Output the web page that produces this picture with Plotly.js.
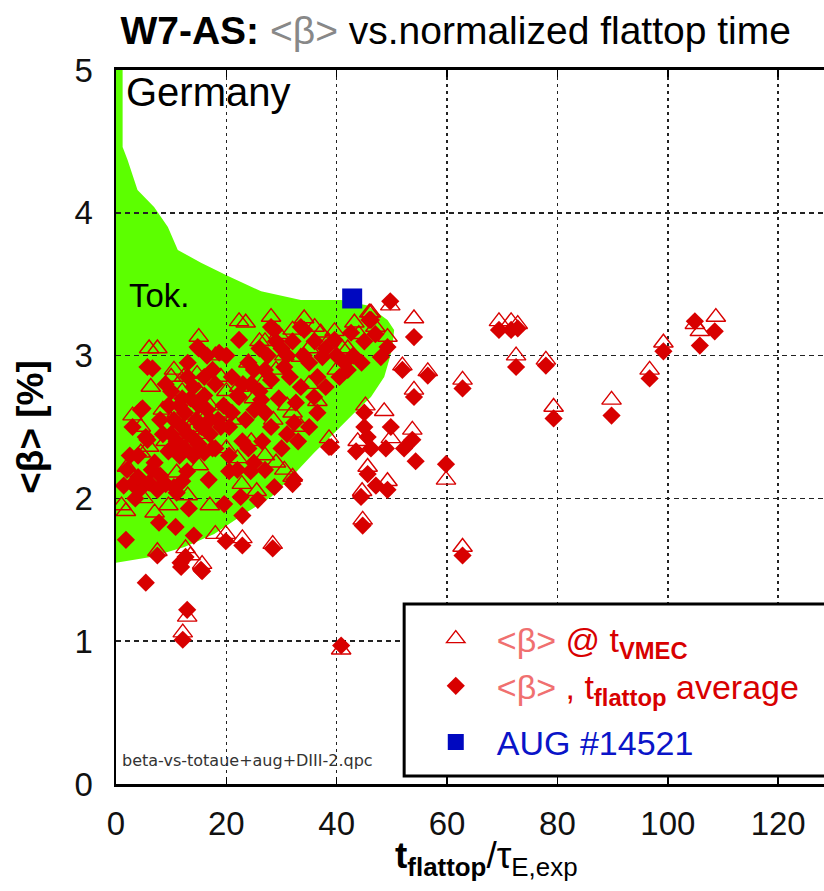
<!DOCTYPE html>
<html>
<head>
<meta charset="utf-8">
<script src="https://cdn.plot.ly/plotly-3.0.1.min.js"></script>
<style>html,body{margin:0;padding:0;background:#fff;}#chart{width:824px;height:891px;}</style>
</head>
<body>
<div id="chart"></div>
<script>
// Tokamak ("Tok.") operating region boundary
const greenX = [0, 0, 1.2, 1.2, 2.1, 3.9, 6.9, 9.4, 11.2, 15.4, 20.2, 26.3, 33.5, 40.8, 45.6, 49.2, 50.4, 50.1, 49.5, 48.6, 46.2, 43.2, 39.6, 35.9, 32.3, 28.1, 23.2, 17.8, 12.4, 6.3, 0];
const greenY = [1.55, 5, 5, 4.46, 4.37, 4.16, 4.04, 3.90, 3.74, 3.65, 3.56, 3.45, 3.39, 3.39, 3.35, 3.25, 3.18, 3.06, 2.97, 2.85, 2.71, 2.60, 2.46, 2.32, 2.17, 2.01, 1.89, 1.75, 1.66, 1.59, 1.55];

// <beta> at t_VMEC (open triangles)
const triX = [49.7, 54.0, 46.2, 51.9, 56.5, 54.0, 62.8, 69.4, 71.6, 72.8, 72.5, 77.9, 79.3, 89.8, 96.7, 99.2, 105.8, 108.7, 104.9,
  59.8, 62.8, 45.2, 48.6, 53.7, 49.8, 45.6, 49.2, 44.6, 44.7, 43.8,
  32.0, 29.0, 25.5, 28.4,
  1.8, 12.9, 12.1, 40.8, 7.5, 12.6, 15.6, 13.5, 19.9, 22.9, 22.8, 13.0, 7.0, 2.0, 1.0, 5.0, 9.5, 17.0, 11.0, 15.0,
  22.3, 15.0, 6.0, 7.5, 6.3, 10.5, 12.3, 14.7, 4.5, 6.0, 22.3, 21.0, 18.0, 17.0, 11.0, 13.5, 9.0, 16.0, 19.0,
  28.1, 34.1, 37.1, 43.2, 45.9, 49.2, 39.6, 33.5, 23.5, 26.0, 30.5, 35.0, 41.0, 38.6, 36.5, 32.0, 28.5, 25.0, 29.0, 40.0, 24.5, 27.0, 20.0, 30.5, 35.0, 18.0,
  8.5, 10.0, 12.0, 13.0, 15.0, 16.5, 18.5, 10.5, 14.0, 20.0, 24.0, 27.0, 29.5, 32.0, 36.0, 38.5, 42.0, 44.0, 47.0, 3.0, 4.5, 26.5, 31.0, 33.5, 22.0, 3.5];
const triY = [3.35, 3.26, 3.30, 2.93, 2.89, 2.76, 2.83, 3.24, 3.24, 3.22, 3.00, 2.97, 2.64, 2.69, 2.90, 3.09, 3.17, 3.27, 3.22,
  2.13, 1.66, 2.65, 2.61, 2.48, 2.42, 2.22, 2.12, 2.05, 1.85, 2.40,
  2.15, 2.25, 2.05, 1.68,
  1.91, 1.17, 1.06, 0.94, 1.63, 1.65, 1.54, 1.60, 1.75, 1.72, 2.10, 2.02, 1.90, 2.22, 1.95, 2.00, 1.95, 1.95, 2.18, 2.23,
  3.24, 3.13, 3.05, 3.05, 2.78, 2.90, 2.85, 2.87, 2.50, 2.36, 2.78, 2.55, 3.00, 2.65, 2.60, 2.50, 2.40, 2.45, 2.85,
  3.27, 3.26, 3.16, 3.23, 3.30, 3.13, 3.17, 2.99, 3.23, 3.10, 3.00, 3.05, 3.05, 2.42, 2.68, 2.60, 2.55, 2.70, 2.90, 2.90, 2.40, 2.30, 2.35, 2.20, 2.80, 1.75,
  2.62, 2.85, 2.75, 2.55, 2.75, 2.58, 2.60, 2.45, 2.48, 2.75, 2.95, 3.10, 3.15, 3.18, 3.20, 3.10, 3.05, 3.15, 3.20, 2.58, 2.32, 2.80, 2.65, 2.50, 2.28, 2.12];

// <beta> flattop average (filled diamonds)
const diaX = [49.7, 54.0, 46.2, 51.9, 56.5, 54.0, 62.8, 69.4, 71.6, 72.8, 72.5, 77.9, 79.3, 89.8, 96.7, 99.2, 104.9, 105.8, 108.5,
  59.8, 62.8, 45.0, 45.0, 45.6, 43.5, 46.2, 48.9, 49.8, 52.2, 53.7, 54.3, 45.6, 47.1, 49.2, 44.4, 44.7, 39.0,
  32.0, 28.7, 25.7, 28.4,
  1.8, 5.4, 12.9, 12.1, 40.8, 7.5, 11.7, 12.6, 15.6, 19.9, 22.9, 22.6, 22.9, 19.6, 13.2, 7.8, 10.8, 14.1, 1.4, 12.9, 16.8, 20.5, 24.4,
  3.0, 4.5, 6.0, 7.5, 9.0, 10.5, 12.0, 4.0, 8.0, 11.0,
  22.3, 15.0, 6.6, 4.8, 18.7, 5.4, 22.3, 20.5, 22.9, 5.7, 4.5, 5.7, 2.5, 8.5, 7.0, 9.5,
  10.0, 12.0, 14.0, 16.0, 18.0, 10.5, 12.5, 14.5, 16.5, 11.0, 13.0, 15.0, 17.0, 11.5, 14.0, 16.0, 18.5, 9.5, 13.0, 17.5, 19.5, 18.0,
  25.1, 26.3, 28.1, 30.5, 33.5, 32.6, 35.9, 36.5, 32.3, 28.1, 38.6, 37.4, 36.5, 39.6, 41.4, 48.0, 49.2, 45.9, 42.6, 34.1, 28.1, 33.5, 28.7, 14.8, 22.0, 24.0, 26.0, 30.0, 31.5, 27.0, 24.5, 21.0, 20.0, 29.5, 35.0, 38.0, 40.5, 43.0, 44.5, 23.5, 26.5, 30.0, 20.5, 24.0, 27.0,
  32.3, 15.4, 11.8,
  8.0, 9.0, 10.0, 11.5, 12.0, 13.5, 14.0, 15.5, 16.0, 17.0, 17.5, 19.0, 10.0, 12.5, 15.0, 13.0, 16.5, 21.0, 23.0, 25.0, 26.0, 27.5, 29.0, 31.0, 32.0, 34.0, 36.0, 38.0, 40.0, 42.0, 45.0, 47.0, 3.0, 4.0, 6.5, 2.0, 3.5, 25.0, 22.0, 31.0, 33.0, 35.0, 27.0];
const diaY = [3.38, 3.13, 3.25, 2.90, 2.86, 2.71, 2.77, 3.18, 3.18, 3.19, 2.92, 2.93, 2.56, 2.58, 2.84, 3.03, 3.24, 3.07, 3.17,
  2.24, 1.60, 2.60, 2.50, 2.43, 2.33, 2.35, 2.35, 2.50, 2.35, 2.41, 2.26, 2.17, 2.09, 2.06, 2.01, 1.81, 2.36,
  2.10, 2.08, 1.99, 1.65,
  1.71, 1.41, 1.22, 1.01, 0.97, 1.60, 1.55, 1.59, 1.49, 1.70, 1.67, 2.01, 1.88, 1.96, 1.93, 1.83, 1.80, 1.74, 2.09, 2.19, 2.13, 2.19, 2.19,
  2.10, 2.07, 2.11, 2.06, 2.10, 2.08, 2.12, 2.15, 2.16, 2.04,
  3.11, 3.05, 2.91, 2.63, 3.02, 2.43, 2.71, 2.50, 2.40, 2.92, 2.62, 2.41, 2.30, 2.45, 2.25, 2.33,
  2.75, 2.70, 2.78, 2.72, 2.80, 2.55, 2.60, 2.55, 2.62, 2.40, 2.45, 2.38, 2.45, 2.30, 2.30, 2.32, 2.55, 2.65, 2.85, 2.90, 2.65, 2.35,
  2.62, 2.69, 2.83, 2.92, 2.78, 2.67, 2.71, 2.60, 2.53, 2.50, 2.36, 2.99, 2.85, 3.11, 2.95, 2.99, 3.06, 3.25, 3.16, 3.18, 3.20, 3.20, 3.18, 3.06, 2.72, 2.95, 3.05, 3.05, 2.85, 2.90, 2.80, 2.85, 3.00, 2.70, 2.95, 2.78, 2.85, 3.00, 2.95, 2.55, 2.40, 2.35, 2.30, 2.35, 2.20,
  2.13, 1.50, 1.52,
  2.55, 2.80, 2.45, 2.65, 2.50, 2.70, 2.42, 2.50, 2.85, 2.55, 2.35, 2.50, 2.35, 2.35, 2.65, 2.95, 3.00, 2.60, 2.80, 2.90, 2.75, 3.00, 3.10, 3.00, 3.10, 3.00, 3.10, 3.05, 3.00, 2.90, 3.10, 3.15, 2.50, 2.30, 2.20, 2.20, 2.00, 2.25, 2.20, 2.45, 2.40, 2.50, 2.60];

// AUG shot
const augX = [42.8];
const augY = [3.40];

const red = '#d80000';
const font = 'Liberation Sans, Arial, sans-serif';

// build green region path from the arrays (data coordinates)
let greenPath = '';
for (let i = 0; i < greenX.length; i++) {
  greenPath += (i === 0 ? 'M' : 'L') + greenX[i] + ',' + greenY[i];
}
greenPath += 'Z';

const traces = [
  {x: triX, y: triY, type: 'scatter', mode: 'markers', legendgroup: 'w7as',
   name: "<span style='color:#f07070'>&lt;β&gt;</span> @ t<sub><b>VMEC</b></sub>",
   marker: {symbol: 'triangle-up-open', size: 17, color: red, line: {width: 1.4, color: red}}},
  {x: diaX, y: diaY, type: 'scatter', mode: 'markers', legendgroup: 'w7as',
   name: "<span style='color:#f07070'>&lt;β&gt;</span> , t<sub><b>flattop</b></sub> average",
   marker: {symbol: 'diamond', size: 14, color: red, line: {width: 0}}},
  {x: augX, y: augY, type: 'scatter', mode: 'markers', legendgroup: 'aug',
   name: "<span style='color:#0a14c8'>AUG #14521</span>",
   marker: {symbol: 'square', size: 20, color: '#0008c0', line: {width: 0}}}
];

const layout = {
  width: 824, height: 891,
  margin: {l: 116, r: 0, t: 70, b: 107},
  paper_bgcolor: '#fff', plot_bgcolor: '#fff',
  font: {family: font, color: '#000'},
  title: {text: "<b>W7-AS:</b> <span style='color:#888'>&lt;β&gt;</span> vs.normalized flattop time",
          font: {size: 39, family: font, color: '#000'},
          x: 0.553, xref: 'container', xanchor: 'center', y: 1 - 30/891, yref: 'container', yanchor: 'middle'},
  xaxis: {range: [0, 128.3], tickvals: [0, 20, 40, 60, 80, 100, 120], ticktext: ['0', '20', '40', '60', '80', '100', '120'],
          showgrid: true, gridcolor: '#222', gridwidth: 1.5, griddash: '3px,4px',
          showline: true, linecolor: '#000', linewidth: 3, mirror: 'ticks',
          ticks: 'inside', ticklen: 7, tickwidth: 1.5, tickcolor: '#000', ticklabelstandoff: 8,
          tickfont: {size: 33, family: font, color: '#111'}, zeroline: false},
  yaxis: {range: [0, 5], tickvals: [0, 1, 2, 3, 4, 5], ticktext: ['0', '1', '2', '3', '4', '5'],
          showgrid: true, gridcolor: '#222', gridwidth: 1.5, griddash: '5px,4px',
          showline: true, linecolor: '#000', linewidth: 2.5, mirror: false,
          ticks: '', ticklabelstandoff: 14,
          tickfont: {size: 33, family: font, color: '#111'}, zeroline: false,
          title: {text: "<b>&lt;β&gt; [%]</b>", font: {size: 37, family: font, color: '#000'}, standoff: 20}},
  showlegend: true,
  legend: {x: 0.422, xanchor: 'left', y: (784 - 610) / 714, yanchor: 'top', bgcolor: 'rgba(0,0,0,0)', borderwidth: 0,
           font: {size: 34, family: font, color: red}, traceorder: 'grouped', tracegroupgap: 9, itemwidth: 72},
  shapes: [
    {type: 'path', xref: 'x', yref: 'y', path: greenPath, fillcolor: '#5cff00', line: {width: 0}, layer: 'below'},
    {type: 'rect', xref: 'paper', yref: 'paper', x0: 0.407, x1: 1.05, y0: (784 - 776) / 714, y1: (784 - 604) / 714,
     fillcolor: '#fff', line: {color: '#000', width: 3}, layer: 'above'}
  ],
  annotations: [
    {text: "<b>t<sub>flattop</sub></b>/τ<sub>E,exp</sub>", xref: 'paper', yref: 'paper', x: (486 - 116) / 708, y: (784 - 858) / 714,
     xanchor: 'center', yanchor: 'middle', showarrow: false, font: {size: 37, family: font, color: '#000'}},
    {text: 'Germany', xref: 'paper', yref: 'paper', x: 0.012, y: (784 - 92) / 714, xanchor: 'left', yanchor: 'middle',
     showarrow: false, font: {size: 40, family: font, color: '#000'}},
    {text: 'Tok.', xref: 'paper', yref: 'paper', x: 0.015, y: (784 - 295) / 714, xanchor: 'left', yanchor: 'middle',
     showarrow: false, font: {size: 33, family: font, color: '#000'}},
    {text: 'beta-vs-totaue+aug+DIII-2.qpc', xref: 'paper', yref: 'paper', x: 0.006, y: (784 - 760) / 714, xanchor: 'left', yanchor: 'middle',
     showarrow: false, font: {size: 16, family: 'DejaVu Sans, sans-serif', color: '#333'}}
  ]
};

Plotly.newPlot('chart', traces, layout, {displayModeBar: false, staticPlot: true});
</script>
</body>
</html>
